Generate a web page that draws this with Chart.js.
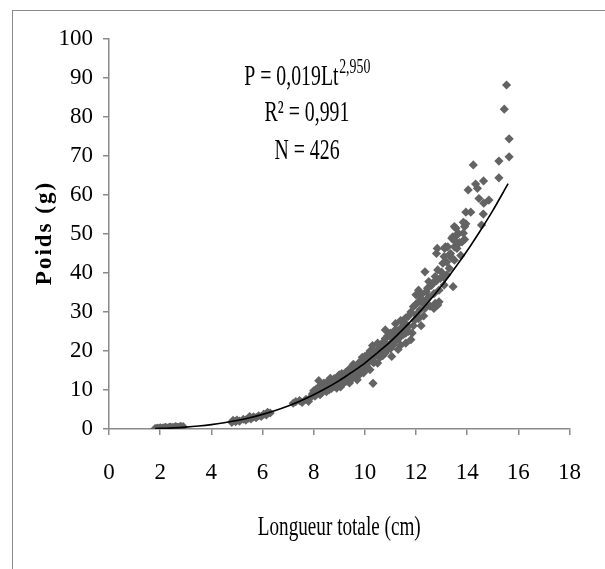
<!DOCTYPE html>
<html>
<head>
<meta charset="utf-8">
<script src="https://cdn.jsdelivr.net/npm/chart.js@4/dist/chart.umd.min.js"></script>
<style>
  body { margin: 0; background: #fff; }
  #wrap { position: relative; width: 605px; height: 569px; overflow: hidden; }
  #frame { position: absolute; left: 12px; top: 10px; width: 700px; height: 700px;
           border-left: 1.5px solid #8a8a8a; border-top: 1.5px solid #8a8a8a; }
  canvas { position: absolute; left: 0; top: 0; }
</style>
</head>
<body>
<div id="wrap">
  <div id="frame"></div>
  <canvas id="myChart" width="605" height="569"></canvas>
</div>
<script>
'use strict';

//tick settings
let xTicks = { min: 0, max: 18, step: 2 };
let yTicks = { min: 0, max: 100, step: 10 };

//longueur totale (cm) of each fish
let lengthCm = [
  1.8, 1.85, 1.9, 1.95, 2.0, 2.05, 2.1, 2.15, 2.2, 2.25, 2.3, 2.35, 2.4, 2.45, 2.5, 2.55, 2.6, 2.65, 2.7, 2.75, 2.8, 2.85, 2.9, 2.0, 2.2, 2.4, 2.6, 2.8,
  4.8, 4.85, 4.95, 5.0, 5.1, 5.25, 5.35, 5.45, 5.55, 5.65, 5.75, 5.85, 5.95, 6.05, 6.15, 6.3, 5.5, 6.2,
  7.2, 7.3, 7.45, 7.55, 7.7, 7.8, 7.9,
  7.95, 8.05, 8.1, 8.15, 8.2, 8.25, 8.3, 8.35, 8.4, 8.45, 8.5, 8.55, 8.6, 8.65, 8.7, 8.75, 8.8, 8.85, 8.9, 8.95,
  9.0, 9.0, 9.05, 9.1, 9.15, 9.2, 9.25, 9.3, 9.35, 9.4, 9.4, 9.45, 9.5, 9.55, 9.6, 9.6, 9.65, 9.7, 9.75, 9.8, 9.85, 9.9, 9.95,
  10.0, 10.0, 10.05, 10.1, 10.15, 10.2, 10.2, 10.25, 10.3, 10.32, 10.35, 10.4, 10.45, 10.5, 10.55, 10.6, 10.65, 10.7, 10.75, 10.8, 10.8, 10.85, 10.9, 10.95,
  11.0, 11.05, 11.1, 11.15, 11.2, 11.2, 11.25, 11.3, 11.35, 11.4, 11.45, 11.5, 11.55, 11.6, 11.6, 11.7, 11.7, 11.8, 11.85, 11.9, 11.95,
  12.0, 12.0, 12.1, 12.1, 12.15, 12.2, 12.2, 12.3, 12.35, 12.35, 12.4, 12.45, 12.5, 12.55, 12.65, 12.7, 12.75, 12.75, 12.8, 12.83, 12.85, 12.85, 12.9, 12.95,
  13.05, 13.1, 13.1, 13.12, 13.15, 13.2, 13.24, 13.3, 13.35, 13.4, 13.44, 13.45, 13.5, 13.5, 13.5, 13.55, 13.56, 13.6, 13.65, 13.8, 13.85, 13.9, 13.95, 13.95,
  14.04, 14.14, 14.24, 14.33, 14.4, 14.46, 14.56, 14.63, 14.64, 14.65, 14.85, 15.24, 15.24, 15.45, 15.54, 15.64, 15.64,
  8.0, 8.1, 8.2, 8.3, 8.4, 8.5, 8.6, 8.7, 8.8, 8.9, 9.0, 9.1, 9.2, 9.3, 9.4, 9.5, 9.6, 9.7, 9.8, 9.9,
  10.0, 10.1, 10.2, 10.3, 10.4, 10.5, 10.6, 10.7, 10.8, 10.9, 11.0, 11.1, 11.2, 11.3, 11.4, 11.5, 11.6, 11.7, 11.8, 11.9,
  12.0, 12.1, 12.2, 12.3, 12.4, 12.5, 12.6, 12.7, 12.8, 12.9, 13.0, 13.1, 13.2, 13.3, 13.4, 13.6, 13.7, 13.75, 13.85, 13.9
];
//poids (g) of each fish, same order as lengthCm
let weightG = [
  0.1, 0.1, 0.2, 0.1, 0.2, 0.1, 0.2, 0.3, 0.2, 0.3, 0.2, 0.4, 0.3, 0.3, 0.4, 0.3, 0.4, 0.5, 0.4, 0.5, 0.4, 0.5, 0.6, 0.3, 0.4, 0.5, 0.6, 0.7,
  1.7, 2.2, 1.9, 2.3, 2.0, 2.5, 2.3, 2.8, 2.6, 3.1, 2.9, 3.4, 3.2, 3.8, 3.6, 4.1, 3.2, 4.3,
  6.6, 7.0, 7.3, 6.8, 7.6, 7.1, 8.2,
  9.0, 8.4, 10.2, 9.4, 12.4, 8.8, 11.0, 9.7, 11.8, 10.3, 9.6, 12.2, 11.1, 13.0, 10.4, 11.7, 10.9, 12.5, 11.3, 13.3,
  12.0, 13.9, 10.8, 12.7, 11.6, 13.1, 14.5, 12.3, 15.0, 11.8, 13.6, 14.1, 12.9, 16.6, 13.8, 15.3, 14.4, 12.6, 15.7, 14.0, 16.2, 18.4, 14.4,
  15.9, 17.5, 16.4, 16.9, 19.3, 15.2, 17.8, 18.2, 21.4, 11.7, 17.0, 18.6, 20.0, 16.9, 19.2, 21.0, 20.3, 18.8, 22.5, 19.5, 25.4, 21.3, 23.9, 21.6,
  20.6, 18.6, 22.9, 24.0, 22.6, 27.0, 25.2, 20.4, 23.5, 21.5, 26.1, 24.2, 27.3, 24.6, 22.0, 26.3, 28.9, 22.9, 24.6, 31.4, 27.9,
  29.3, 34.4, 32.6, 35.6, 30.5, 34.4, 26.5, 29.0, 30.9, 40.3, 33.1, 36.1, 37.8, 31.5, 37.4, 30.9, 32.2, 39.1, 45.0, 46.3, 31.8, 40.8, 32.6, 38.6,
  42.5, 36.9, 44.2, 46.3, 46.7, 39.5, 46.7, 41.2, 45.0, 48.9, 49.3, 36.5, 43.3, 46.7, 51.9, 48.0, 51.5, 49.7, 50.2, 48.0, 50.2, 51.9, 55.6, 52.6,
  61.3, 55.6, 67.7, 62.8, 61.7, 59.1, 52.3, 55.1, 63.6, 57.9, 58.7, 64.4, 68.7, 82.0, 88.2, 74.4, 69.8,
  9.8, 8.9, 10.8, 9.2, 10.9, 11.4, 10.0, 12.0, 12.9, 10.5, 11.4, 14.2, 12.0, 13.9, 15.4, 14.0, 16.1, 14.9, 17.2, 15.8,
  18.6, 15.6, 20.0, 17.3, 19.8, 22.0, 18.4, 21.5, 23.2, 20.7, 24.6, 21.5, 25.5, 23.0, 27.8, 25.4, 28.5, 25.0, 30.0, 26.5,
  32.0, 28.3, 33.4, 31.9, 35.2, 33.8, 36.8, 34.7, 38.0, 35.6, 40.2, 38.8, 42.8, 44.6, 43.9, 46.3, 47.8, 44.5, 53.0, 48.6
];

//trend curve
let curveLength = [1.8, 2, 2.5, 3, 3.5, 4, 4.5, 5, 5.5, 6, 6.5, 7, 7.5, 8, 8.5, 9, 9.5, 10, 10.5, 11, 11.5, 12, 12.5, 13, 13.5, 14, 14.5, 15, 15.6];
let curveWeight = [0.1, 0.15, 0.28, 0.49, 0.77, 1.13, 1.61, 2.19, 2.9, 3.75, 4.75, 5.91, 7.25, 8.77, 10.5, 12.4, 14.6, 16.9, 19.6, 22.4, 25.6, 29.0, 32.7, 36.7, 41.1, 45.7, 50.7, 56.0, 62.9];

//labels on the picture
let xTitle = 'Longueur totale (cm)';
let yTitle = 'Poids (g)';
let eqMain = 'P = 0,019Lt';
let eqSup = '2,950';
let r2Text = 'R\u00B2 = 0,991';
let nText = 'N = 426';

//turn the arrays into {x, y} points
let fishPoints = [];
for (let i = 0; i < lengthCm.length; i++) {
  fishPoints.push({ x: lengthCm[i], y: weightG[i] });
}
let curvePoints = [];
for (let i = 0; i < curveLength.length; i++) {
  curvePoints.push({ x: curveLength[i], y: curveWeight[i] });
}

const serif = '"Liberation Serif", "Times New Roman", serif';
const axisGray = '#8a8a8a';

//draws the equation block and the two axis titles
const textPlugin = {
  id: 'textPlugin',
  afterDraw(chart) {
    const ctx = chart.ctx;
    const area = chart.chartArea;
    ctx.save();
    ctx.fillStyle = '#000';
    ctx.textBaseline = 'middle';

    //equation block, narrow like the original
    const cx = 307;
    ctx.save();
    ctx.translate(cx, 77);
    ctx.scale(0.66, 1);
    ctx.font = '30px ' + serif;
    const wMain = ctx.measureText(eqMain).width;
    ctx.font = '21px ' + serif;
    const wSup = ctx.measureText(eqSup).width;
    const left = -(wMain + wSup) / 2;
    ctx.textAlign = 'left';
    ctx.font = '30px ' + serif;
    ctx.fillText(eqMain, left, 0);
    ctx.font = '21px ' + serif;
    ctx.fillText(eqSup, left + wMain + 1, -10);
    ctx.restore();

    ctx.save();
    ctx.textAlign = 'center';
    ctx.font = '30px ' + serif;
    ctx.translate(cx, 113);
    ctx.scale(0.66, 1);
    ctx.fillText(r2Text, 0, 0);
    ctx.restore();

    ctx.save();
    ctx.textAlign = 'center';
    ctx.font = '30px ' + serif;
    ctx.translate(cx, 151);
    ctx.scale(0.66, 1);
    ctx.fillText(nText, 0, 0);
    ctx.restore();

    //x axis title
    ctx.save();
    ctx.textAlign = 'center';
    ctx.font = '27px ' + serif;
    ctx.translate((area.left + area.right) / 2, 528);
    ctx.scale(0.71, 1);
    ctx.fillText(xTitle, 0, 0);
    ctx.restore();

    //y axis title, bold and a bit spaced
    ctx.save();
    ctx.textAlign = 'center';
    ctx.font = 'bold 23px ' + serif;
    ctx.letterSpacing = '2px';
    ctx.translate(45, (area.top + area.bottom) / 2);
    ctx.rotate(-Math.PI / 2);
    ctx.fillText(yTitle, 1, 0);
    ctx.restore();

    ctx.restore();
  }
};

const canvas = document.getElementById('myChart');
const myChart = new Chart(canvas.getContext('2d'), {
  type: 'scatter',
  data: {
    datasets: [
      {
        label: 'courbe',
        data: curvePoints,
        showLine: true,
        borderColor: '#000',
        borderWidth: 1.6,
        pointRadius: 0,
        cubicInterpolationMode: 'monotone'
      },
      {
        label: 'poids',
        data: fishPoints,
        pointStyle: 'rectRot',
        pointRadius: 4.6,
        backgroundColor: '#636363',
        borderColor: '#636363',
        borderWidth: 0
      }
    ]
  },
  options: {
    responsive: false,
    animation: false,
    layout: { padding: { top: 39, right: 28, left: 0, bottom: 0 } },
    plugins: {
      legend: { display: false },
      tooltip: { enabled: false }
    },
    scales: {
      x: {
        type: 'linear',
        min: xTicks.min,
        max: xTicks.max,
        afterFit(scale) { scale.height = 140; },
        border: { color: axisGray, width: 1.5 },
        grid: { drawOnChartArea: false, color: axisGray, lineWidth: 1.5, tickLength: 6 },
        ticks: { stepSize: xTicks.step, color: '#000', padding: 24, font: { family: serif, size: 23 } }
      },
      y: {
        min: yTicks.min,
        max: yTicks.max,
        afterFit(scale) { scale.width = 109; },
        border: { color: axisGray, width: 1.5 },
        grid: { drawOnChartArea: false, color: axisGray, lineWidth: 1.5, tickLength: 6 },
        ticks: { stepSize: yTicks.step, color: '#000', padding: 10, font: { family: serif, size: 23 } }
      }
    }
  },
  plugins: [textPlugin]
});
</script>
</body>
</html>
